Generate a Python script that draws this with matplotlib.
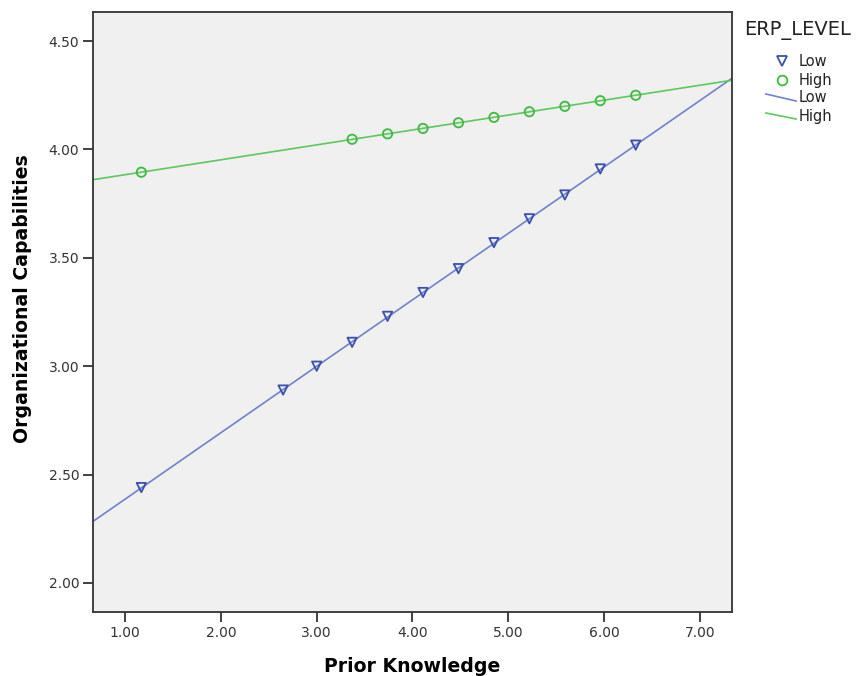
import numpy as np
import matplotlib.pyplot as plt
from matplotlib.lines import Line2D

plt.rcParams['font.family'] = ['DejaVu Sans']

# predicted values per ERP level
x_low = [1.17, 2.65, 3.00, 3.37, 3.74, 4.11, 4.48, 4.85, 5.22, 5.59, 5.96, 6.33]
y_low = [2.44, 2.89, 3.00, 3.11, 3.23, 3.34, 3.45, 3.57, 3.68, 3.79, 3.91, 4.02]
x_high = [1.17, 3.37, 3.74, 4.11, 4.48, 4.85, 5.22, 5.59, 5.96, 6.33]
y_high = [3.895, 4.047, 4.072, 4.097, 4.123, 4.148, 4.174, 4.199, 4.225, 4.250]
xticks = [1, 2, 3, 4, 5, 6, 7]
yticks = [2.0, 2.5, 3.0, 3.5, 4.0, 4.5]

blue_m = '#3A4FB0'
blue_l = '#6F82CC'
green_m = '#3CBB3C'
green_l = '#5ACB5A'

W, H = 859, 676
fig = plt.figure(figsize=(W / 100, H / 100), dpi=100)
ax = fig.add_axes([0.1083, 0.0947, 0.7433, 0.8875])
ax.set_facecolor('#F0F0F0')

xlim = (0.666, 7.33)
xx = np.array(xlim)

# fit lines
b, a = np.polyfit(x_low, y_low, 1)
ax.plot(xx, a + b * xx, color=blue_l, lw=1.2, zorder=2)
b, a = np.polyfit(x_high, y_high, 1)
ax.plot(xx, a + b * xx, color=green_l, lw=1.2, zorder=2)

ax.scatter(x_low, y_low, marker='v', s=45, facecolors='none',
           edgecolors=blue_m, linewidths=1.3, zorder=3)
ax.scatter(x_high, y_high, marker='o', s=45, facecolors='none',
           edgecolors=green_m, linewidths=1.3, zorder=3)

ax.set_xlim(xlim)
ax.set_ylim(1.866, 4.634)
ax.set_xticks(xticks)
ax.set_xticklabels(['%.2f' % v for v in xticks])
ax.set_yticks(yticks)
ax.set_yticklabels(['%.2f' % v for v in yticks])
ax.tick_params(labelsize=10, colors='#333333', width=1.3, length=7, pad=3)
for s in ax.spines.values():
    s.set_color('#333333')
    s.set_linewidth(1.3)

ax.set_xlabel('Prior Knowledge', fontsize=13.6, fontweight='bold', labelpad=12)
ax.set_ylabel('Organizational Capabilities', fontsize=13.6, fontweight='bold')
ax.yaxis.set_label_coords(-0.0955, 0.522)

# legend drawn in figure pixels
def fx(px):
    return px / W

def fy(py):
    return 1 - py / H

fig.text(fx(744), fy(31), 'ERP_LEVEL', fontsize=14, va='center', ha='left', color='#222222')
fig.add_artist(Line2D([fx(782)], [fy(61)], marker='v', ls='none', mfc='none',
                      mec=blue_m, mew=1.3, ms=7, transform=fig.transFigure))
fig.add_artist(Line2D([fx(782)], [fy(80)], marker='o', ls='none', mfc='none',
                      mec=green_m, mew=1.3, ms=7, transform=fig.transFigure))
fig.add_artist(Line2D([fx(766), fx(796)], [fy(94), fy(101)], color=blue_l, lw=1.2,
                      transform=fig.transFigure))
fig.add_artist(Line2D([fx(766), fx(796)], [fy(113), fy(119)], color=green_l, lw=1.2,
                      transform=fig.transFigure))
for py, lab in zip([61, 80, 98, 117], ['Low', 'High', 'Low', 'High']):
    fig.text(fx(799), fy(py), lab, fontsize=10.5, va='center', ha='left', color='#222222')

fig.savefig('out.png', dpi=100)
